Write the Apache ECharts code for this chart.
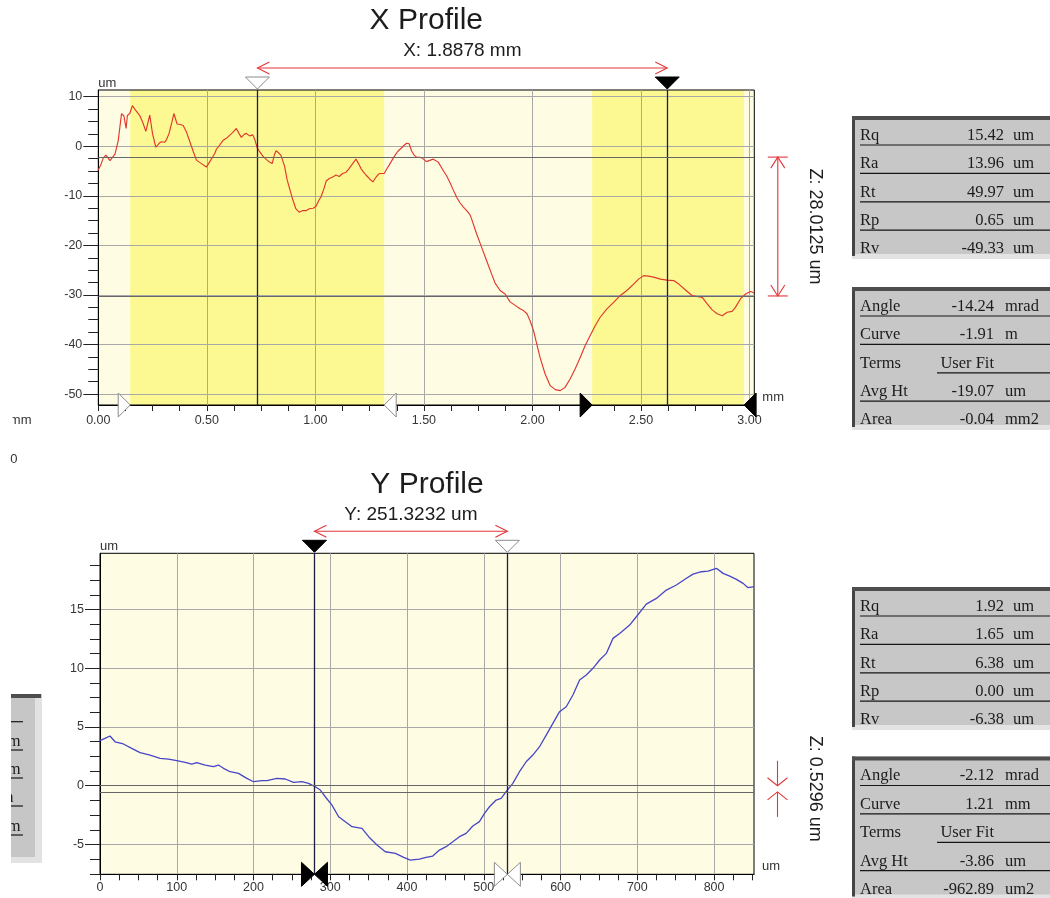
<!DOCTYPE html>
<html>
<head>
<meta charset="utf-8">
<script src="https://cdn.jsdelivr.net/npm/echarts@6/dist/echarts.min.js"></script>
<style>
  html, body { margin: 0; padding: 0; background: #ffffff; }
  #chart { width: 1050px; height: 898px; }
</style>
</head>
<body>
<div id="chart"></div>
<script>
// ---- X profile: position along X (mm) and surface height (um)
const xProfilePos = [0.000,0.010,0.023,0.035,0.054,0.066,0.077,0.092,0.107,0.118,
  0.124,0.128,0.134,0.145,0.157,0.168,0.191,0.205,0.219,0.237,
  0.250,0.265,0.280,0.291,0.305,0.314,0.326,0.340,0.348,0.363,
  0.378,0.391,0.405,0.421,0.437,0.452,0.475,0.498,0.515,0.536,
  0.544,0.560,0.575,0.590,0.605,0.620,0.636,0.648,0.659,0.672,
  0.682,0.697,0.712,0.722,0.732,0.745,0.758,0.775,0.789,0.801,
  0.812,0.819,0.830,0.842,0.858,0.870,0.881,0.896,0.910,0.925,
  0.940,0.957,0.972,0.990,1.003,1.015,1.026,1.040,1.050,1.064,
  1.080,1.095,1.110,1.125,1.140,1.155,1.170,1.187,1.200,1.210,
  1.222,1.233,1.250,1.265,1.280,1.294,1.317,1.330,1.340,1.352,
  1.363,1.380,1.395,1.409,1.420,1.432,1.443,1.455,1.466,1.489,
  1.512,1.530,1.543,1.566,1.589,1.605,1.620,1.635,1.651,1.666,
  1.682,1.697,1.712,1.720,1.743,1.766,1.789,1.812,1.828,1.851,
  1.874,1.897,1.920,1.943,1.960,1.975,1.989,2.005,2.020,2.035,
  2.058,2.082,2.105,2.128,2.151,2.174,2.197,2.220,2.243,2.266,
  2.289,2.312,2.343,2.374,2.405,2.435,2.466,2.489,2.512,2.535,
  2.558,2.589,2.620,2.651,2.674,2.705,2.735,2.758,2.782,2.805,
  2.828,2.851,2.874,2.897,2.920,2.935,2.958,2.982,3.005,3.022];
const xProfileHt = [-4.8,-3.9,-2.4,-1.8,-2.9,-2.2,-1.6,1.2,6.6,6.1,
  5.8,3.6,6.2,6.6,8.2,7.5,6.2,4.8,3.0,6.3,
  2.5,-0.2,0.6,0.9,0.8,1.3,2.6,5.0,6.6,4.5,
  4.4,4.2,3.0,1.0,-1.0,-2.8,-3.5,-4.2,-3.0,-1.5,
  -0.6,0.3,1.2,1.6,2.2,2.8,3.6,2.6,1.8,2.4,
  2.6,2.1,2.3,1.2,-0.3,-1.2,-2.0,-2.7,-3.2,-3.5,
  -1.6,-0.9,-1.3,-1.9,-4.0,-6.8,-8.5,-10.8,-12.6,-13.3,
  -13.0,-13.0,-12.6,-12.5,-12.1,-11.0,-10.2,-8.5,-7.0,-6.5,
  -6.2,-5.8,-6.1,-5.5,-5.3,-4.5,-3.6,-2.6,-3.6,-4.5,
  -5.2,-5.8,-6.6,-7.2,-6.2,-5.5,-5.5,-4.5,-3.8,-2.9,
  -2.1,-1.0,-0.4,0.2,0.6,0.5,-0.9,-1.8,-2.2,-2.3,
  -3.1,-2.8,-2.6,-3.2,-4.9,-6.0,-7.3,-8.8,-10.3,-11.4,
  -12.3,-13.0,-13.8,-14.7,-17.7,-20.4,-23.1,-25.8,-27.6,-29.1,
  -29.8,-31.4,-32.1,-32.8,-33.2,-33.8,-35.2,-37.2,-39.9,-42.6,
  -45.9,-48.3,-49.1,-49.3,-48.6,-46.9,-44.9,-42.6,-40.2,-38.2,
  -36.2,-34.5,-32.8,-31.5,-30.1,-29.1,-27.8,-26.8,-26.1,-26.2,
  -26.4,-26.8,-27.0,-27.1,-27.8,-29.0,-30.1,-30.3,-30.5,-31.8,
  -33.0,-33.8,-34.2,-33.5,-33.3,-32.5,-30.8,-29.8,-29.3,-29.6];

// ---- Y profile: position along Y (um) and surface height (um)
const yProfilePos = [0,6.5,13,19.6,30.4,41.3,52.2,65.2,78.3,89.1,
  100,110.9,119.6,126,137,147.8,154.3,160.9,169.6,180.4,
  191.3,200,210.9,217.4,230.4,241.3,252.2,263,271.7,280.4,
  287,293.5,302.2,310.9,319.6,328.3,341.3,350,360.9,371.7,
  384.8,395.7,404.3,416,424.8,433.5,442.2,450.9,459.6,468.3,
  477,485.7,494.3,500.9,507.4,516.1,522.6,529.1,537.8,546.5,
  555.2,563.9,572.6,581.3,590,598.7,607.4,616.1,624.8,633.5,
  642.2,650.9,659.6,668.3,677,690,698.7,711.7,724.8,737.8,
  750.9,764,772.6,783.5,792.2,803,811.7,820.4,829.1,837.8,
  844.3,852];
const yProfileHt = [3.83,4.03,4.23,3.74,3.55,3.18,2.81,2.61,2.33,2.27,
  2.13,1.99,1.84,1.96,1.76,1.62,1.76,1.48,1.19,1.05,
  0.62,0.34,0.43,0.43,0.62,0.57,0.28,0.34,0.20,-0.09,
  -0.37,-0.94,-1.65,-2.64,-3.06,-3.49,-3.63,-4.34,-5.05,-5.62,
  -5.76,-6.10,-6.33,-6.24,-6.10,-5.99,-5.48,-5.19,-4.77,-4.34,
  -4.06,-3.43,-3.06,-2.35,-1.79,-1.22,-1.08,-0.51,0.20,1.19,
  2.04,2.61,3.32,4.31,5.30,6.30,6.72,7.72,8.99,9.42,
  9.99,10.70,11.26,12.54,12.96,13.67,14.38,15.46,15.94,16.65,
  17.08,17.65,18.01,18.21,18.27,18.50,18.07,17.84,17.56,17.22,
  16.85,16.94];

// ---- axis extents and tick labels
const xRangeX = [0, 3.022];
const xRangeZ = [-52.2, 11.35];
const yRangeY = [0, 852];
const yRangeZ = [-7.54, 19.78];
const xTicksX = [0, 0.5, 1, 1.5, 2, 2.5, 3];
const xTicksZ = [-50, -40, -30, -20, -10, 0, 10];
const yTicksY = [0, 100, 200, 300, 400, 500, 600, 700, 800];
const yTicksZ = [-5, 0, 5, 10, 15];

// ---- cursors, reference levels and fit regions
const xCursors = [0.733, 2.621];
const xLevels = [-2.19, -30.2];
const xBands = [[0.147, 1.317], [2.275, 2.975]];
const yCursors = [279.4, 530.7];
const yLevels = [0.0, -0.53];
const xCursorLabel = 'X: 1.8878 mm';
const xLevelLabel = 'Z: 28.0125 um';
const yCursorLabel = 'Y: 251.3232 um';
const yLevelLabel = 'Z: 0.5296 um';

// ---- statistics panels
const xStats = [['Rq', '15.42', 'um'], ['Ra', '13.96', 'um'], ['Rt', '49.97', 'um'], ['Rp', '0.65', 'um'], ['Rv', '-49.33', 'um']];
const xFit = [['Angle', '-14.24', 'mrad'], ['Curve', '-1.91', 'm'], ['Terms', 'User Fit', ''], ['Avg Ht', '-19.07', 'um'], ['Area', '-0.04', 'mm2']];
const yStats = [['Rq', '1.92', 'um'], ['Ra', '1.65', 'um'], ['Rt', '6.38', 'um'], ['Rp', '0.00', 'um'], ['Rv', '-6.38', 'um']];
const yFit = [['Angle', '-2.12', 'mrad'], ['Curve', '1.21', 'mm'], ['Terms', 'User Fit', ''], ['Avg Ht', '-3.86', 'um'], ['Area', '-962.89', 'um2']];

const SANS = '"Liberation Sans", Arial, Helvetica, sans-serif';
const SERIF = '"Liberation Serif", "Times New Roman", serif';
const CREAM = '#fffce4';
const YELLOW = '#fcf993';
const LABEL = { color: '#363636', fontSize: 12.5, fontFamily: SANS };

function valueAxis(gridIndex, range, ticks, split, fmt, horizontal, extra) {
  return Object.assign({
    type: 'value', gridIndex, min: range[0], max: range[1], splitNumber: split,
    axisLine: { show: true, onZero: false, lineStyle: { color: '#000', width: 1 } },
    axisTick: { show: true, customValues: ticks, length: horizontal ? 6 : 15, lineStyle: { color: '#222', width: 1 } },
    minorTick: { show: true, splitNumber: 4, length: horizontal ? 6 : 10, lineStyle: { color: '#222', width: 1 } },
    axisLabel: Object.assign({ customValues: ticks, formatter: fmt, margin: horizontal ? 9 : 16 }, LABEL),
    splitLine: { show: true, lineStyle: { color: '#a8a8a8', width: 1 } },
    minorSplitLine: { show: false }
  }, extra);
}

const nameStyleX = { color: '#333', fontSize: 13, fontFamily: SANS, align: 'left', verticalAlign: 'bottom', padding: [0, 0, 1, 0] };
const nameStyleY = { color: '#333', fontSize: 13, fontFamily: SANS, align: 'left', verticalAlign: 'bottom', padding: [0, 0, 0, 0] };

const option = {
  backgroundColor: '#ffffff',
  animation: false,
  grid: [
    { left: 98.3, top: 90, width: 656, height: 315, show: true, backgroundColor: 'transparent', borderColor: '#000', borderWidth: 1, containLabel: false, outerBoundsMode: 'none' },
    { left: 100, top: 553.3, width: 654, height: 321, show: true, backgroundColor: 'transparent', borderColor: '#000', borderWidth: 1, containLabel: false, outerBoundsMode: 'none' }
  ],
  xAxis: [
    valueAxis(0, xRangeX, xTicksX, 6, v => v.toFixed(2), true, { name: 'mm', nameLocation: 'end', nameGap: 8, nameTextStyle: nameStyleX }),
    valueAxis(1, yRangeY, yTicksY, 8, v => String(v), true, { name: 'um', nameLocation: 'end', nameGap: 8, nameTextStyle: nameStyleX, axisLabel: Object.assign({ customValues: yTicksY, formatter: v => String(v), margin: 7 }, LABEL) })
  ],
  yAxis: [
    valueAxis(0, xRangeZ, xTicksZ, 6, v => String(v), false, { name: 'um', nameLocation: 'end', nameGap: 0, nameTextStyle: nameStyleY }),
    valueAxis(1, yRangeZ, yTicksZ, 5, v => String(v), false, { name: 'um', nameLocation: 'end', nameGap: 0, nameTextStyle: nameStyleY })
  ],
  series: [
    {
      type: 'line', xAxisIndex: 0, yAxisIndex: 0, z: 3,
      data: xProfilePos.map((x, i) => [x, xProfileHt[i]]),
      showSymbol: false, symbol: 'none', silent: true,
      lineStyle: { color: '#e2372c', width: 1.15 },
      markArea: {
        silent: true, z: -1,
        label: { show: false },
        data: [[{ xAxis: xRangeX[0], itemStyle: { color: CREAM } }, { xAxis: xRangeX[1] }]]
          .concat(xBands.map(b => [{ xAxis: b[0], itemStyle: { color: YELLOW } }, { xAxis: b[1] }]))
      },
      markLine: {
        silent: true, symbol: ['none', 'none'], label: { show: false },
        data: [
          { xAxis: xCursors[0], lineStyle: { color: '#1e1e48', width: 1.3, type: 'solid' } },
          { xAxis: xCursors[1], lineStyle: { color: '#1e1e48', width: 1.3, type: 'solid' } },
          { yAxis: xLevels[0], lineStyle: { color: '#676767', width: 1.2, type: 'solid' } },
          { yAxis: xLevels[1], lineStyle: { color: '#676767', width: 1.2, type: 'solid' } }
        ]
      }
    },
    {
      type: 'line', xAxisIndex: 1, yAxisIndex: 1, z: 3,
      data: yProfilePos.map((y, i) => [y, yProfileHt[i]]),
      showSymbol: false, symbol: 'none', silent: true,
      lineStyle: { color: '#4646c8', width: 1.3 },
      markArea: {
        silent: true, z: -1,
        label: { show: false },
        data: [[{ xAxis: yRangeY[0], itemStyle: { color: CREAM } }, { xAxis: yRangeY[1] }]]
      },
      markLine: {
        silent: true, symbol: ['none', 'none'], label: { show: false },
        data: [
          { xAxis: yCursors[0], lineStyle: { color: '#1e1e48', width: 1.3, type: 'solid' } },
          { xAxis: yCursors[1], lineStyle: { color: '#1e1e48', width: 1.3, type: 'solid' } },
          { yAxis: yLevels[0], lineStyle: { color: '#676767', width: 1.2, type: 'solid' } },
          { yAxis: yLevels[1], lineStyle: { color: '#676767', width: 1.2, type: 'solid' } }
        ]
      }
    }
  ]
};

const chart = echarts.init(document.getElementById('chart'), null, { width: 1050, height: 898 });
chart.setOption(option);

// ---- annotations placed through the grids' own coordinate systems
const px = (g, x, y) => chart.convertToPixel({ gridIndex: g }, [x, y]);
const RED = '#e2373a';
const els = [];

function text(x, y, str, size, family, align, extra) {
  return Object.assign({
    type: 'text', x, y, z: 20, silent: true,
    style: { text: str, fontSize: size, fontFamily: family, fill: '#1c1c1c', align: align, verticalAlign: 'middle' }
  }, extra || {});
}
function poly(points, filled) {
  return { type: 'polygon', z: 22, silent: true, shape: { points },
    style: { fill: filled ? '#000' : '#ffffff', stroke: filled ? '#000' : '#8c8c8c', lineWidth: 1 } };
}
function seg(points, color, w) {
  return { type: 'polyline', z: 21, silent: true, shape: { points }, style: { stroke: color, lineWidth: w || 1, fill: null } };
}
function hArrow(x1, x2, y) {
  return [seg([[x1, y], [x2, y]], RED, 1.1),
    seg([[x1 + 12, y - 6], [x1, y], [x1 + 12, y + 6]], RED, 1.1),
    seg([[x2 - 12, y - 6], [x2, y], [x2 - 12, y + 6]], RED, 1.1)];
}
function downTri(cx, top, filled) {
  return poly([[cx - 12, top - 13], [cx + 12, top - 13], [cx, top - 1]], filled);
}
function sideTri(tipX, cy, dir, filled) {
  // dir = 1: body to the left of the tip, pointing right; -1: pointing left
  return poly([[tipX - dir * 12, cy - 12], [tipX, cy], [tipX - dir * 12, cy + 12]], filled);
}

function profileDecor(g, rangeX, rangeZ, cursors, levels, cursorLabel, levelLabel, title, inward) {
  const [left, bottom] = px(g, rangeX[0], rangeZ[0]);
  const [right, top] = px(g, rangeX[1], rangeZ[1]);
  const ca = px(g, cursors[0], 0)[0];
  const cb = px(g, cursors[1], 0)[0];
  const la = px(g, 0, levels[0])[1];
  const lb = px(g, 0, levels[1])[1];
  const arrowY = top - 22;
  els.push(text((left + right) / 2, top - 69, title, 30, SANS, 'center'));
  els.push(text((ca + cb) / 2, arrowY - 17, cursorLabel, 19, SANS, 'center'));
  els.push.apply(els, hArrow(Math.min(ca, cb), Math.max(ca, cb), arrowY));
  const zx = right + 23.5;
  if (!inward) {
    els.push(seg([[zx, la], [zx, lb]], RED, 1.1));
    els.push(seg([[zx - 10, la], [zx + 10, la]], RED, 1.1));
    els.push(seg([[zx - 7, la + 11], [zx, la], [zx + 7, la + 11]], RED, 1.1));
    els.push(seg([[zx - 10, lb], [zx + 10, lb]], RED, 1.1));
    els.push(seg([[zx - 7, lb - 11], [zx, lb], [zx + 7, lb - 11]], RED, 1.1));
  } else {
    els.push(seg([[zx, la - 25], [zx, la]], RED, 1.1));
    els.push(seg([[zx - 10, la - 8], [zx, la], [zx + 10, la - 8]], RED, 1.1));
    els.push(seg([[zx, lb + 25], [zx, lb]], RED, 1.1));
    els.push(seg([[zx - 10, lb + 8], [zx, lb], [zx + 10, lb + 8]], RED, 1.1));
  }
  els.push(text(right + 61, (la + lb) / 2, levelLabel, 18, SANS, 'center', { rotation: -Math.PI / 2 }));
  return { left, right, top, bottom, ca, cb };
}

// X profile decorations
const gx = profileDecor(0, xRangeX, xRangeZ, xCursors, xLevels, xCursorLabel, xLevelLabel, 'X Profile', false);
els.push(downTri(gx.ca, gx.top, false));
els.push(downTri(gx.cb, gx.top, true));
xBands.forEach((b, i) => {
  const filled = i > 0;
  els.push(sideTri(px(0, b[0], 0)[0], gx.bottom, 1, filled));
  els.push(sideTri(px(0, b[1], 0)[0], gx.bottom, -1, filled));
});

// Y profile decorations
const gy = profileDecor(1, yRangeY, yRangeZ, yCursors, yLevels, yCursorLabel, yLevelLabel, 'Y Profile', true);
els.push(downTri(gy.ca, gy.top, true));
els.push(downTri(gy.cb, gy.top, false));
[[gy.ca, true], [gy.cb, false]].forEach(([cx, filled]) => {
  els.push(poly([[cx - 13, gy.bottom - 12], [cx, gy.bottom], [cx - 13, gy.bottom + 12]], filled));
  els.push(poly([[cx + 13, gy.bottom - 12], [cx, gy.bottom], [cx + 13, gy.bottom + 12]], filled));
});

// ---- statistics panels
function statPanel(top, rows, valueRight, unitLeft) {
  const left = 852, right = 1050, rowH = 28.4, h = 143;
  els.push({ type: 'rect', z: 10, silent: true, shape: { x: left, y: top, width: right - left, height: h }, style: { fill: '#c7c7c7' } });
  rows.forEach((r, i) => {
    const under = top + 29 + rowH * i;
    const mid = under - 9.5;
    els.push(text(860, mid, r[0], 16.5, SERIF, 'left', { z: 11 }));
    els.push(text(valueRight, mid, r[1], 16.5, SERIF, 'right', { z: 11 }));
    if (r[2]) els.push(text(unitLeft, mid, r[2], 16.5, SERIF, 'left', { z: 11 }));
    if (i < rows.length - 1) {
      const from = r[0] === 'Terms' ? 937 : 860;
      els.push({ type: 'line', z: 11, silent: true, shape: { x1: from, y1: under, x2: right, y2: under }, style: { stroke: '#161616', lineWidth: 1.2 } });
    }
  });
  els.push({ type: 'rect', z: 12, silent: true, shape: { x: left, y: top + h - 5, width: right - left, height: 5 }, style: { fill: '#e3e3e3' } });
  els.push({ type: 'rect', z: 13, silent: true, shape: { x: left, y: top, width: 3, height: h - 3 }, style: { fill: '#454545' } });
  els.push({ type: 'rect', z: 13, silent: true, shape: { x: left, y: top, width: right - left, height: 4 }, style: { fill: '#4e4e4e' } });
}
statPanel(116, xStats, 1004, 1013);
statPanel(287, xFit, 994, 1005);
statPanel(587, yStats, 1004, 1013);
statPanel(756.5, yFit, 994, 1005);

// ---- neighbouring panel edge on the left
els.push({ type: 'rect', z: 10, silent: true, shape: { x: 11, y: 694, width: 31, height: 169 }, style: { fill: '#c6c6c6' } });
els.push({ type: 'rect', z: 12, silent: true, shape: { x: 35, y: 698, width: 7, height: 165 }, style: { fill: '#e2e2e2' } });
els.push({ type: 'rect', z: 12, silent: true, shape: { x: 11, y: 857, width: 31, height: 6 }, style: { fill: '#e2e2e2' } });
els.push({ type: 'rect', z: 13, silent: true, shape: { x: 11, y: 694, width: 30, height: 4 }, style: { fill: '#4e4e4e' } });
[721.7, 750, 778, 806, 835].forEach(y => {
  els.push({ type: 'line', z: 11, silent: true, shape: { x1: 11, y1: y, x2: 23, y2: y }, style: { stroke: '#161616', lineWidth: 1.2 } });
});
[[742, 20.5], [770, 20.5], [798, 13.5], [827, 20.5]].forEach(([y, x]) => {
  els.push(text(x, y, 'um', 16.5, SERIF, 'right', { z: 11 }));
});
els.push({ type: 'text', x: 31.5, y: 420, z: 20, silent: true, style: { text: 'mm', fontSize: 13, fontFamily: SANS, fill: '#333', align: 'right', verticalAlign: 'middle' } });
els.push({ type: 'text', x: 17.5, y: 459, z: 20, silent: true, style: { text: '0', fontSize: 13, fontFamily: SANS, fill: '#333', align: 'right', verticalAlign: 'middle' } });
els.push({ type: 'rect', z: 30, silent: true, shape: { x: 0, y: 405, width: 12.5, height: 30 }, style: { fill: '#ffffff' } });
els.push({ type: 'rect', z: 30, silent: true, shape: { x: 0, y: 440, width: 10, height: 35 }, style: { fill: '#ffffff' } });
els.push({ type: 'rect', z: 30, silent: true, shape: { x: 0, y: 690, width: 11, height: 180 }, style: { fill: '#ffffff' } });

chart.setOption({ graphic: { elements: els } });
</script>
</body>
</html>
